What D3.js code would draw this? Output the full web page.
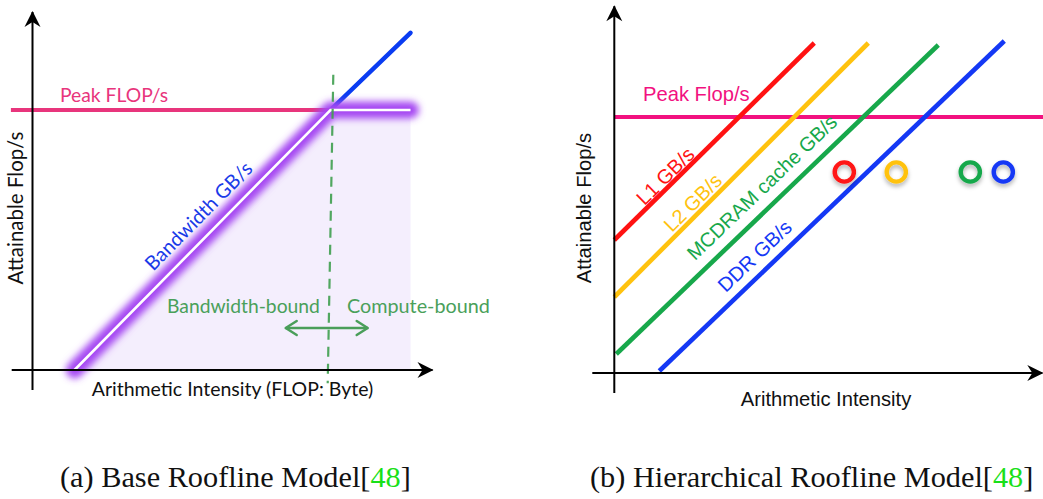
<!DOCTYPE html>
<html><head><meta charset="utf-8">
<script src="https://cdn.jsdelivr.net/npm/d3@7"></script>
<style>html,body{margin:0;padding:0;background:#fff;overflow:hidden}</style>
</head><body><svg id="c" width="1043" height="499"></svg>
<script>
// ================= DATA =================
// Panel (a): Base Roofline Model (schematic units, origin = axes crossing)
const peakA = 6.5;                                   // Peak FLOP/s level
const peakLineXA = [-0.54, 7.45];                    // extent of Peak FLOP/s line
const roofA = [[1.05, 0], [7.45, 6.5], [9.45, 6.5]]; // attainable roofline
const bandwidthExtA = [[7.45, 6.5], [9.45, 8.43]];   // memory slope beyond ridge
const ridgeDashA = [[7.52, 7.38], [7.38, -0.33]];    // ridge point divider
const boundArrowA = [[6.33, 1.05], [8.38, 1.05]];    // bandwidth/compute bound arrow
const textsA = ["Peak FLOP/s", "Bandwidth GB/s", "Bandwidth-bound", "Compute-bound"];
const axisTitlesA = ["Arithmetic Intensity (FLOP: Byte)", "Attainable Flop/s"];

// Panel (b): Hierarchical Roofline Model
const peakB = 6.4;
const bandwidthNamesB = ["L1 GB/s", "L2 GB/s", "MCDRAM cache GB/s", "DDR GB/s"];
const bandwidthStartB = [[0, 3.325], [0, 1.9], [0.05, 0.475], [1.125, 0.05]];
const bandwidthEndB   = [[5.0, 8.25], [6.35, 8.25], [8.1, 8.2], [9.75, 8.3]];
const kernelXB = [5.75, 7.05, 8.9, 9.725];
const kernelYB = 5.025;
const axisTitlesB = ["Arithmetic Intensity", "Attainable Flop/s"];
const peakLabelB = "Peak Flop/s";

const captions = [["(a) Base Roofline Model[", "48", "]"], ["(b) Hierarchical Roofline Model[", "48", "]"]];

// ================= LAYOUT / STYLE =================
const svg = d3.select("#c");
const defs = svg.append("defs");
defs.append("marker").attr("id", "arr").attr("markerUnits", "userSpaceOnUse")
  .attr("markerWidth", 20).attr("markerHeight", 20).attr("viewBox", "-17 -10 20 20")
  .attr("refX", 0).attr("refY", 0).attr("orient", "auto")
  .append("path").attr("d", "M1,0 L-15,-8 L-10,0 L-15,8 Z").attr("fill", "#000");
defs.append("marker").attr("id", "garr").attr("markerUnits", "userSpaceOnUse")
  .attr("markerWidth", 20).attr("markerHeight", 20).attr("viewBox", "-14 -10 18 20")
  .attr("refX", 0).attr("refY", 0).attr("orient", "auto-start-reverse")
  .append("path").attr("d", "M0,0 L-11,-7 M0,0 L-11,7").attr("fill", "none")
  .attr("stroke", "#4a9e5a").attr("stroke-width", 2.5).attr("stroke-linecap", "round");
const glow = defs.append("filter").attr("id", "glow").attr("x", "-20%").attr("y", "-20%").attr("width", "140%").attr("height", "140%");
glow.append("feGaussianBlur").attr("stdDeviation", 3.8);
const shadow = defs.append("filter").attr("id", "shadow").attr("x", "-50%").attr("y", "-50%").attr("width", "200%").attr("height", "200%");
shadow.append("feDropShadow").attr("dx", 0).attr("dy", 3).attr("stdDeviation", 2).attr("flood-color", "#000").attr("flood-opacity", 0.3);

const line = (x, y) => d3.line().x(d => x(d[0])).y(d => y(d[1]));

// ---------- Panel (a) ----------
const xA = d3.scaleLinear().domain([0, 10]).range([32.5, 432.5]);
const yA = d3.scaleLinear().domain([0, 9]).range([370, 10]);
const lA = line(xA, yA);
const gA = svg.append("g");
const fontA = "Lato, 'Open Sans', sans-serif";
const fsA = 19.3;

// shaded attainable region
gA.append("path").attr("d", lA([roofA[0], roofA[1], roofA[2], [roofA[2][0], 0]]) + "Z").attr("fill", "#f4eefd");
// blue extension
gA.append("path").attr("d", lA(bandwidthExtA)).attr("stroke", "#0a3cf2").attr("stroke-width", 4.5).attr("fill", "none").attr("stroke-linecap", "round");
// peak line
gA.append("path").attr("d", lA([[peakLineXA[0], peakA], [peakLineXA[1], peakA]])).attr("stroke", "#e8357c").attr("stroke-width", 4).attr("fill", "none");
// glow
gA.append("path").attr("d", lA(roofA)).attr("stroke", "#a546f2").attr("stroke-width", 17).attr("fill", "none")
  .attr("stroke-linecap", "round").attr("stroke-linejoin", "round").attr("filter", "url(#glow)");
gA.append("path").attr("d", lA(roofA)).attr("stroke", "#fff").attr("stroke-width", 2.6).attr("fill", "none").attr("stroke-linejoin", "miter");
// ridge dash
gA.append("path").attr("d", lA(ridgeDashA)).attr("stroke", "#3f9f4f").attr("stroke-width", 2.2).attr("stroke-dasharray", "10,7").attr("fill", "none").attr("opacity", 0.9);
// axes
gA.append("path").attr("d", lA([[-0.52, 0], [10, 0]])).attr("stroke", "#000").attr("stroke-width", 2).attr("marker-end", "url(#arr)");
gA.append("path").attr("d", lA([[0, -0.5], [0, 8.95]])).attr("stroke", "#000").attr("stroke-width", 2).attr("marker-end", "url(#arr)");
// bound arrow
gA.append("path").attr("d", lA(boundArrowA)).attr("stroke", "#4a9e5a").attr("stroke-width", 2.5).attr("fill", "none")
  .attr("marker-start", "url(#garr)").attr("marker-end", "url(#garr)");
// texts
gA.append("text").attr("x", 60).attr("y", 101.5).attr("fill", "#e8357c").attr("font-family", fontA).attr("font-size", fsA).text(textsA[0]);
const angA = Math.atan2(yA(roofA[1][1]) - yA(roofA[0][1]), xA(roofA[1][0]) - xA(roofA[0][0])) * 180 / Math.PI;
gA.append("text").attr("transform", `translate(${xA(4.15)},${yA(3.85)}) rotate(${angA})`).attr("text-anchor", "middle").attr("dy", "0.35em")
  .attr("fill", "#1a3ae8").attr("font-family", fontA).attr("font-size", 19.8).text(textsA[1]);
gA.append("text").attr("x", 167).attr("y", 313).attr("fill", "#4aa05a").attr("font-family", fontA).attr("font-size", fsA).text(textsA[2]);
gA.append("text").attr("x", 347).attr("y", 313).attr("fill", "#4aa05a").attr("font-family", fontA).attr("font-size", 19.8).text(textsA[3]);
gA.append("text").attr("x", 232.5).attr("y", 396).attr("text-anchor", "middle").attr("fill", "#111").attr("font-family", fontA).attr("font-size", 19.5).text(axisTitlesA[0]);
gA.append("text").attr("transform", "translate(22.5,208) rotate(-90)").attr("text-anchor", "middle").attr("fill", "#111").attr("font-family", fontA).attr("font-size", 20.5).text(axisTitlesA[1]);

// ---------- Panel (b) ----------
const xB = d3.scaleLinear().domain([0, 10]).range([614.3, 1014.3]);
const yB = d3.scaleLinear().domain([0, 9]).range([373, 13]);
const lB = line(xB, yB);
const gB = svg.append("g");
const fontB = "'Liberation Sans', Arial, sans-serif";
const colorsB = ["#ff1212", "#ffc20e", "#17a84b", "#1438f5"];

gB.append("path").attr("d", lB([[0, peakB], [10.75, peakB]])).attr("stroke", "#f2117f").attr("stroke-width", 4).attr("fill", "none");
bandwidthNamesB.forEach((n, i) => {
  gB.append("path").attr("d", lB([bandwidthStartB[i], bandwidthEndB[i]])).attr("stroke", colorsB[i]).attr("stroke-width", 4.6).attr("fill", "none");
});
gB.append("path").attr("d", lB([[-0.55, 0], [10.7, 0]])).attr("stroke", "#000").attr("stroke-width", 2).attr("marker-end", "url(#arr)");
gB.append("path").attr("d", lB([[0, -0.5], [0, 9.17]])).attr("stroke", "#000").attr("stroke-width", 2).attr("marker-end", "url(#arr)");

kernelXB.forEach((k, i) => {
  gB.append("circle").attr("cx", xB(k)).attr("cy", yB(kernelYB)).attr("r", 9.6).attr("fill", "none")
    .attr("stroke", colorsB[i]).attr("stroke-width", 4.4).attr("filter", "url(#shadow)");
});

const labelPosB = [[1.275, 4.925], [1.96, 4.26], [3.69, 4.64], [3.51, 2.925]];
bandwidthNamesB.forEach((n, i) => {
  const s = bandwidthStartB[i], e = bandwidthEndB[i];
  const ang = Math.atan2(yB(e[1]) - yB(s[1]), xB(e[0]) - xB(s[0])) * 180 / Math.PI;
  gB.append("text").attr("transform", `translate(${xB(labelPosB[i][0])},${yB(labelPosB[i][1])}) rotate(${ang})`)
    .attr("text-anchor", "middle").attr("dy", "0.35em").attr("fill", colorsB[i]).attr("font-family", fontB).attr("font-size", 20).text(n);
});
gB.append("text").attr("x", 643).attr("y", 101).attr("fill", "#f2117f").attr("font-family", fontB).attr("font-size", 20.2).text(peakLabelB);
gB.append("text").attr("x", 826).attr("y", 406).attr("text-anchor", "middle").attr("fill", "#111").attr("font-family", fontB).attr("font-size", 20.2).text(axisTitlesB[0]);
gB.append("text").attr("transform", "translate(591,208) rotate(-90)").attr("text-anchor", "middle").attr("fill", "#111").attr("font-family", fontB).attr("font-size", 20.2).text(axisTitlesB[1]);

// ---------- Captions ----------
const capX = [60, 590];
captions.forEach((c, i) => {
  const t = svg.append("text").attr("x", capX[i]).attr("y", 487).attr("font-family", "'Liberation Serif', 'Times New Roman', serif").attr("font-size", 30.3).attr("fill", "#111");
  t.append("tspan").text(c[0]);
  t.append("tspan").attr("fill", "#19e019").text(c[1]);
  t.append("tspan").text(c[2]);
});
</script></body></html>
